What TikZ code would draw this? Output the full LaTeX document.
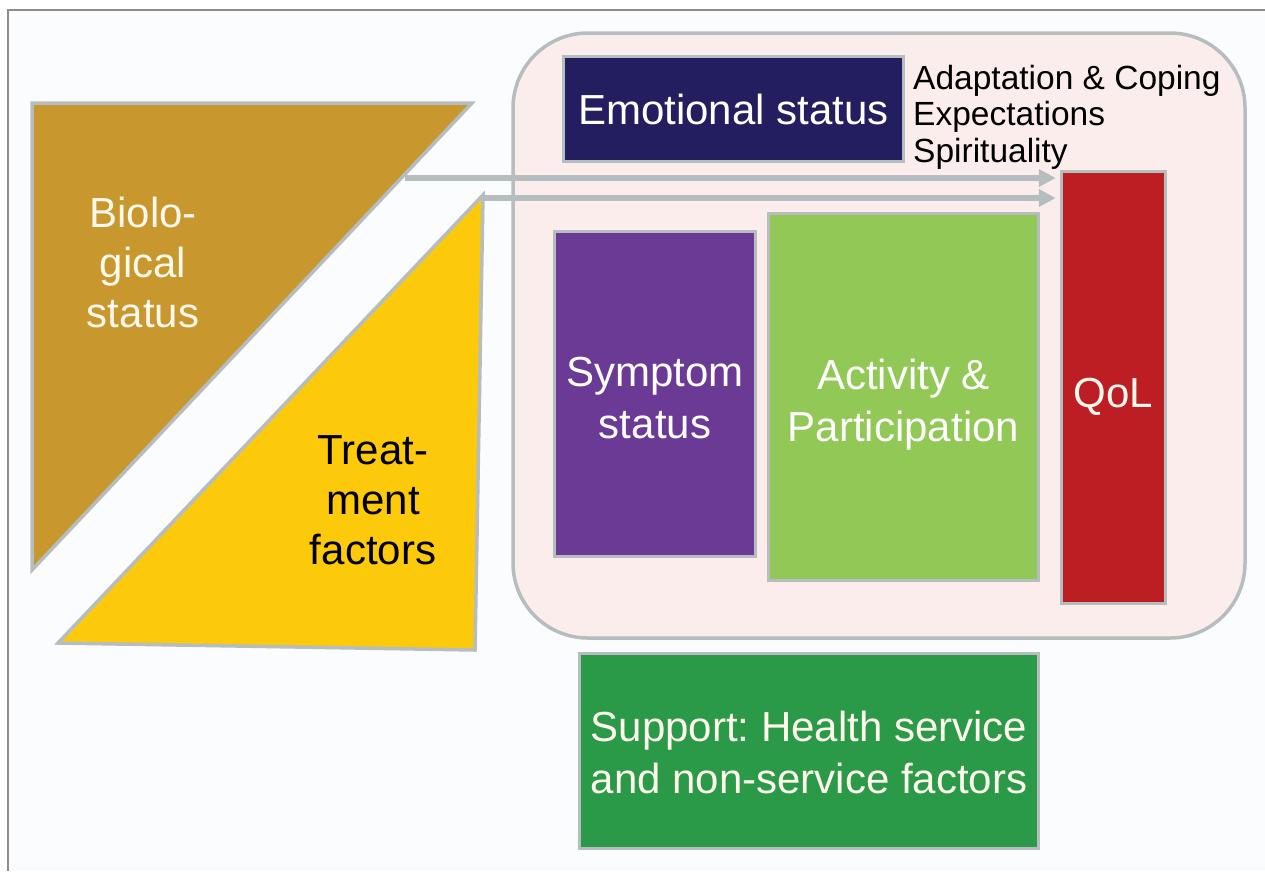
\documentclass[tikz,border=0pt]{standalone}
\usepackage{fontspec}
\setmainfont{Liberation Sans}
\frenchspacing
\usetikzlibrary{arrows.meta}
\definecolor{navy}{HTML}{221E5F}
\definecolor{purp}{HTML}{6B3A95}
\definecolor{lgreen}{HTML}{92C855}
\definecolor{dgreen}{HTML}{2A9A48}
\definecolor{qred}{HTML}{BD1E24}
\definecolor{gold}{HTML}{C8972D}
\definecolor{yell}{HTML}{FCC90B}
\definecolor{pinkbg}{HTML}{FCEDED}
\definecolor{bgray}{HTML}{B6BDBF}
\definecolor{framegray}{HTML}{8C8C8C}
\definecolor{pagebg}{HTML}{FBFCFD}
\definecolor{cream}{HTML}{FFF8EC}
\tikzset{
  box/.style={draw=bgray, line width=3.5pt, inner sep=0pt},
  shapeline/.style={draw=bgray, line width=3.5pt, line join=miter},
  lbl/.style={inner sep=0pt, align=center, font=\fontsize{42}{50}\selectfont},
  lblw/.style={inner sep=0pt, align=center, font=\fontsize{42}{52}\selectfont},
  flow/.style={draw=bgray, line width=5.5pt, -{Triangle[length=17pt,width=17pt]}},
}
\begin{document}
\begin{tikzpicture}[x=1pt,y=-1pt]
\useasboundingbox (0,0) rectangle (1265,871);
\fill[white] (0,0) rectangle (1265,871);
\fill[pagebg] (8,10) rectangle (1265,871);
\draw[framegray, line width=1.5pt] (8,871) -- (8,10) -- (1265,10);
% container
\draw[draw=bgray, fill=pinkbg, line width=3.5pt, rounded corners=75pt]
  (513,33) rectangle (1245,638);
% biological triangle
\path[shapeline, fill=gold] (32,103) -- (472,103) -- (32,570) -- cycle;
\node[lbl, text=cream] (bio) at (143,262) {Biolo-\\gical\\status};
% treatment
\path[shapeline, fill=yell] (483,195) -- (475,650) -- (58,643) -- cycle;
\node[lbl, text=black] (treat) at (373,500) {Treat-\\ment\\factors};
% boxes
\node[box, fill=navy, minimum width=340pt, minimum height=105pt] (emo) at (733.5,109) {};
\node[lbl, text=white] (emolbl) at (emo.center) {Emotional status};
\node[inner sep=0pt, anchor=west, align=left, font=\fontsize{33.5}{36.5}\selectfont] (coping) at (913,117) {Adaptation \& Coping\\Expectations\\Spirituality};
\node[box, fill=qred, minimum width=104pt, minimum height=432pt] (qol) at (1113.5,387.5) {};
\node[lbl, text=cream] (qollbl) at ([yshift=-9pt]qol.center) {QoL};
\node[box, fill=purp, minimum width=201pt, minimum height=325pt] (sym) at (655,394) {};
\node[lblw, text=white] (symlbl) at ([yshift=-4.5pt]sym.center) {Symptom\\status};
\node[box, fill=lgreen, minimum width=270pt, minimum height=367pt] (act) at (903.5,397) {};
\node[lblw, text=white] (actlbl) at ([yshift=-7.5pt]act.center) {Activity \&\\Participation};
\node[box, fill=dgreen, minimum width=459pt, minimum height=195pt] (sup) at (809,751) {};
\node[lblw, text=cream] (suplbl) at ([yshift=-1pt]sup.center) {Support: Health service\\and non-service factors};
% arrows
\coordinate (bioout) at (405,178);
\coordinate (treatout) at (484,198);
\draw[flow, shorten >=4pt] (bioout) -- (bioout -| qol.west);
\draw[flow, shorten >=4pt] (treatout) -- (treatout -| qol.west);
\end{tikzpicture}
\end{document}
